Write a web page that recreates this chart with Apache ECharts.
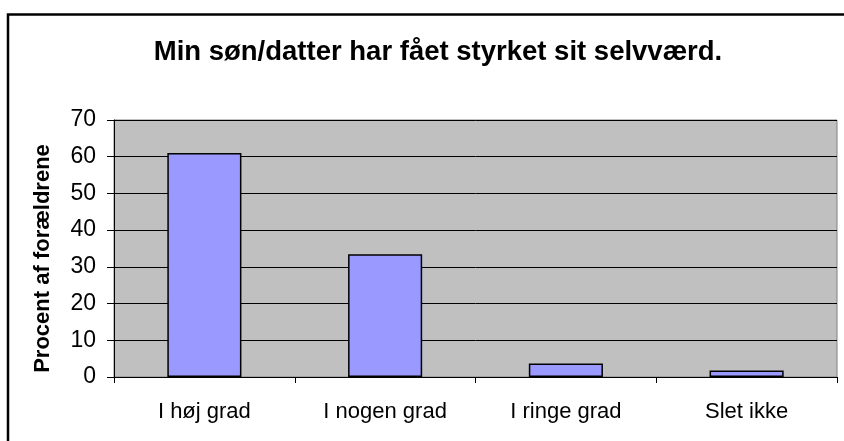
<!DOCTYPE html>
<html>
<head>
<meta charset="utf-8">
<script src="https://cdn.jsdelivr.net/npm/echarts@6/dist/echarts.min.js"></script>
<style>
  html, body { margin: 0; padding: 0; background: #fff; }
  #chart { width: 844px; height: 441px; }
</style>
</head>
<body>
<div id="chart"></div>
<script>
var categories = ['I høj grad', 'I nogen grad', 'I ringe grad', 'Slet ikke'];
var values = [61, 33.4, 3.7, 1.8];
var yTicks = [0, 10, 20, 30, 40, 50, 60, 70];

var font = '"Liberation Sans", Arial, sans-serif';

var chart = echarts.init(document.getElementById('chart'));
chart.setOption({
  animation: false,
  backgroundColor: '#fff',
  graphic: [{
    type: 'rect',
    shape: { x: 8, y: 14.5, width: 860, height: 460 },
    style: { fill: 'none', stroke: '#000', lineWidth: 2.5 },
    z: 100
  }],
  title: {
    text: 'Min søn/datter har fået styrket sit selvværd.',
    left: 438, top: 38, textAlign: 'center', padding: 0,
    textStyle: { fontFamily: font, fontSize: 27.5, fontWeight: 'bold', color: '#000' }
  },
  grid: {
    left: 114, top: 120, right: 7, bottom: 64,
    show: true, backgroundColor: '#C0C0C0', borderColor: '#808080', borderWidth: 1
  },
  xAxis: {
    type: 'category',
    data: categories,
    axisLine: { lineStyle: { color: '#000', width: 1 } },
    axisTick: { show: true, length: 6, inside: false, alignWithLabel: false, lineStyle: { color: '#000' } },
    axisLabel: { margin: 24, fontFamily: font, fontSize: 22, color: '#000' }
  },
  yAxis: {
    type: 'value',
    min: yTicks[0], max: yTicks[yTicks.length - 1], interval: 10,
    name: 'Procent af forældrene',
    nameLocation: 'middle', nameGap: 60, nameRotate: 90,
    nameTextStyle: { fontFamily: font, fontSize: 22, fontWeight: 'bold', color: '#000', padding: [0, 20, 0, 0] },
    axisLine: { show: true, lineStyle: { color: '#000', width: 1 } },
    axisTick: { show: true, length: 7, lineStyle: { color: '#000' } },
    axisLabel: { margin: 18, fontFamily: font, fontSize: 23, color: '#000' },
    splitLine: { show: true, lineStyle: { color: '#000', width: 1 } }
  },
  series: [{
    type: 'bar',
    data: values,
    barWidth: '41%',
    itemStyle: { color: '#9999FF', borderColor: '#000', borderWidth: 1.5 }
  }]
});
</script>
</body>
</html>
